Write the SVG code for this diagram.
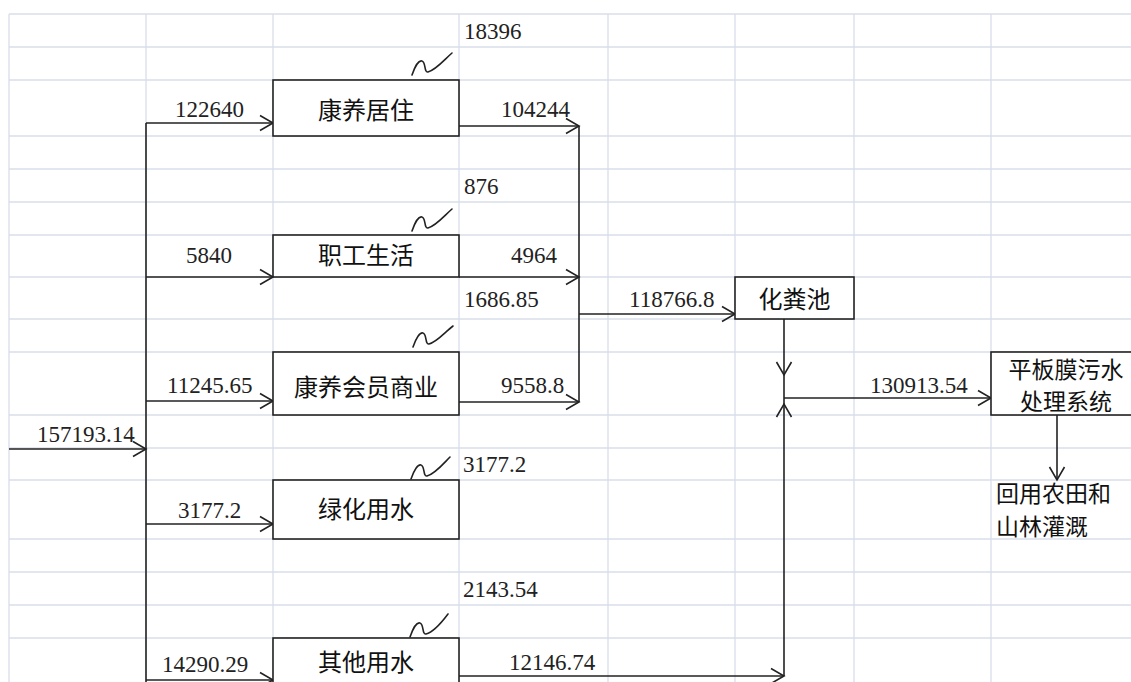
<svg xmlns="http://www.w3.org/2000/svg" width="1131" height="682" viewBox="0 0 1131 682">
<defs>
<style>
.grid line{stroke:#d9dee9;stroke-width:1.3}
.box{fill:#fff;stroke:#222;stroke-width:1.6}
.lbl{font-family:"Noto Sans CJK SC","Noto Sans",sans-serif;font-size:24px;fill:#111}
.lbl2{font-family:"Noto Sans CJK SC","Noto Sans",sans-serif;font-size:23px;fill:#111}
.num{font-family:"Liberation Serif","Times New Roman",serif;font-size:23px;fill:#222}
.conn path,.conn line{fill:none;stroke:#222;stroke-width:1.6}
.sq{fill:none;stroke:#333;stroke-width:1.4;stroke-linecap:round}
</style>
<marker id="arr" markerUnits="userSpaceOnUse" viewBox="-15 -10 17 20" markerWidth="17" markerHeight="20" refX="0" refY="0" orient="auto">
<path d="M-13,-7.5 L0,0 L-13,7.5" fill="none" stroke="#222" stroke-width="1.6"/>
</marker>
</defs>
<rect width="1131" height="682" fill="#fff"/>
<g class="grid">
<line x1="9" y1="14" x2="1131" y2="14"/>
<line x1="9" y1="47" x2="1131" y2="47"/>
<line x1="9" y1="80" x2="1131" y2="80"/>
<line x1="9" y1="136" x2="1131" y2="136"/>
<line x1="9" y1="169" x2="1131" y2="169"/>
<line x1="9" y1="202" x2="1131" y2="202"/>
<line x1="9" y1="235" x2="1131" y2="235"/>
<line x1="9" y1="277" x2="1131" y2="277"/>
<line x1="9" y1="319" x2="1131" y2="319"/>
<line x1="9" y1="352" x2="1131" y2="352"/>
<line x1="9" y1="415" x2="1131" y2="415"/>
<line x1="9" y1="448" x2="1131" y2="448"/>
<line x1="9" y1="480" x2="1131" y2="480"/>
<line x1="9" y1="539" x2="1131" y2="539"/>
<line x1="9" y1="572" x2="1131" y2="572"/>
<line x1="9" y1="605" x2="1131" y2="605"/>
<line x1="9" y1="638" x2="1131" y2="638"/>
<line x1="9" y1="14" x2="9" y2="682"/>
<line x1="146" y1="14" x2="146" y2="682"/>
<line x1="273" y1="14" x2="273" y2="682"/>
<line x1="459" y1="14" x2="459" y2="682"/>
<line x1="608" y1="14" x2="608" y2="682"/>
<line x1="735" y1="14" x2="735" y2="682"/>
<line x1="854" y1="14" x2="854" y2="682"/>
<line x1="991" y1="14" x2="991" y2="682"/>
</g>
<g class="conn" id="connectors">
<path d="M9,449 H146" marker-end="url(#arr)"/>
<path d="M146,123 V682"/>
<path d="M146,123 H273" marker-end="url(#arr)"/>
<path d="M146,277 H273" marker-end="url(#arr)"/>
<path d="M146,401 H273" marker-end="url(#arr)"/>
<path d="M146,524 H273" marker-end="url(#arr)"/>
<path d="M146,680 H273" marker-end="url(#arr)"/>
<path d="M459,126 H579" marker-end="url(#arr)"/>
<path d="M459,277 H579" marker-end="url(#arr)"/>
<path d="M459,402 H579" marker-end="url(#arr)"/>
<path d="M579,126 V402"/>
<path d="M579,314 H735" marker-end="url(#arr)"/>
<path d="M784,319 V375" marker-end="url(#arr)"/>
<path d="M784,375 V404"/>
<path d="M459,676 H784" marker-end="url(#arr)"/>
<path d="M784,676 V404" marker-end="url(#arr)"/>
<path d="M784,398 H991" marker-end="url(#arr)"/>
<path d="M1057,415 V480" marker-end="url(#arr)"/>
<path class="sq" d="M412,75 C415,66 419,60 422,61 C426,62 424,73 428,72 C436,70 444,60 452,53"/>
<path class="sq" d="M412,231 C415,222 419,216 422,217 C426,218 424,229 428,228 C436,226 444,216 452,209"/>
<path class="sq" d="M413,347 C416,338 420,332 423,333 C427,334 425,345 429,344 C437,342 445,332 453,326"/>
<path class="sq" d="M411,479 C414,470 418,464 421,465 C425,466 423,477 427,476 C435,474 443,464 450,457"/>
<path class="sq" d="M410,637 C413,628 417,622 420,623 C424,624 422,635 426,634 C434,632 442,622 448,614"/>
</g>
<g id="n-kangyang-juzhu"><rect class="box" x="273" y="80" width="186" height="56"/><text class="lbl" x="366" y="119" text-anchor="middle">康养居住</text></g>
<g id="n-zhigong"><rect class="box" x="273" y="235" width="186" height="42"/><text class="lbl" x="366" y="264" text-anchor="middle">职工生活</text></g>
<g id="n-huiyuan"><rect class="box" x="273" y="352" width="186" height="63"/><text class="lbl" x="366" y="396" text-anchor="middle">康养会员商业</text></g>
<g id="n-lvhua"><rect class="box" x="273" y="480" width="186" height="59"/><text class="lbl" x="366" y="518" text-anchor="middle">绿化用水</text></g>
<g id="n-qita"><rect class="box" x="273" y="638" width="186" height="60"/><text class="lbl" x="366" y="671" text-anchor="middle">其他用水</text></g>
<g id="n-huafenchi"><rect class="box" x="735" y="277" width="119" height="42"/><text class="lbl" x="794.5" y="308" text-anchor="middle">化粪池</text></g>
<g id="n-pingban"><rect class="box" x="991" y="352" width="150" height="63"/><text class="lbl2" x="1066" y="378" text-anchor="middle">平板膜污水</text><text class="lbl2" x="1066" y="410" text-anchor="middle">处理系统</text></g>
<g id="n-huiyong"><text class="lbl2" x="996" y="502">回用农田和</text><text class="lbl2" x="996" y="535">山林灌溉</text></g>
<g id="labels">
<text class="num" x="37" y="442">157193.14</text>
<text class="num" x="175" y="117">122640</text>
<text class="num" x="186" y="263">5840</text>
<text class="num" x="167" y="393">11245.65</text>
<text class="num" x="178" y="518">3177.2</text>
<text class="num" x="162" y="672">14290.29</text>
<text class="num" x="464" y="39">18396</text>
<text class="num" x="501" y="117">104244</text>
<text class="num" x="464" y="194">876</text>
<text class="num" x="511" y="263">4964</text>
<text class="num" x="464" y="307">1686.85</text>
<text class="num" x="501" y="393">9558.8</text>
<text class="num" x="629" y="307">118766.8</text>
<text class="num" x="870" y="393">130913.54</text>
<text class="num" x="463" y="472">3177.2</text>
<text class="num" x="463" y="597">2143.54</text>
<text class="num" x="509" y="670">12146.74</text>
</g>
</svg>
